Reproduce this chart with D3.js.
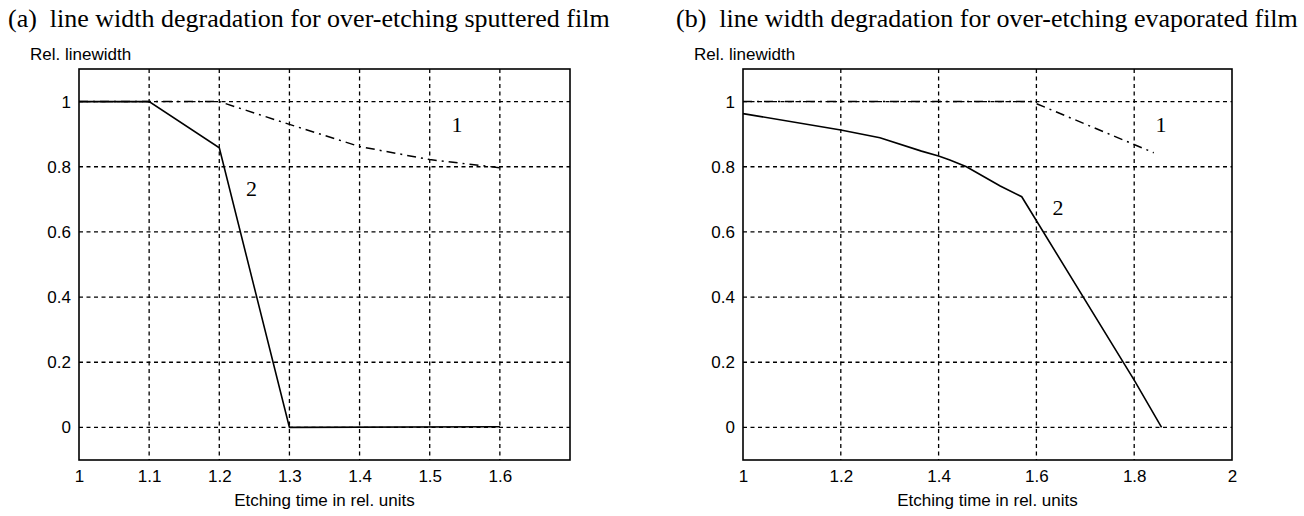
<!DOCTYPE html>
<html><head><meta charset="utf-8">
<script src="https://cdn.jsdelivr.net/npm/d3@7"></script>
<style>body{margin:0;background:#fff}</style>
</head><body>
<svg id="chart" width="1304" height="516"></svg>
<script>
// ---- data ----
const titleA = "(a)\u00a0\u00a0line width degradation for over-etching sputtered film";
const titleB = "(b)\u00a0\u00a0line width degradation for over-etching evaporated film";
const yLabel = "Rel. linewidth";
const xLabel = "Etching time in rel. units";
const xTicksA = [1, 1.1, 1.2, 1.3, 1.4, 1.5, 1.6];
const xGridA = [1.1, 1.2, 1.3, 1.4, 1.5, 1.6];
const xTicksB = [1, 1.2, 1.4, 1.6, 1.8, 2];
const xGridB = [1.2, 1.4, 1.6, 1.8];
const yTicks = [0, 0.2, 0.4, 0.6, 0.8, 1];
// panel (a) curve 1 (dash-dot) and curve 2 (solid)
const xA1 = [1, 1.1, 1.2, 1.3, 1.4, 1.5, 1.6];
const yA1 = [1, 1, 1, 0.93, 0.862, 0.822, 0.797];
const xA2 = [1, 1.1, 1.2, 1.3, 1.6];
const yA2 = [1, 1, 0.858, 0, 0.002];
// panel (b)
const xB1 = [1, 1.59, 1.84];
const yB1 = [1, 1, 0.843];
const xB2 = [1, 1.2, 1.28, 1.365, 1.4, 1.423, 1.457, 1.526, 1.57, 1.8, 1.856];
const yB2 = [0.963, 0.913, 0.889, 0.848, 0.833, 0.821, 0.80, 0.741, 0.708, 0.145, 0];
// curve labels
const curveLabels = ["1", "2"];
const labelPosA = [[1.539, 0.906], [1.246, 0.711]];
const labelPosB = [[1.855, 0.906], [1.644, 0.651]];

const svg = d3.select("#chart");

function panel(cfg) {
  const x = d3.scaleLinear().domain(cfg.xDomain).range([cfg.left, cfg.right]);
  const y = d3.scaleLinear().domain([-0.1, 1.1]).range([460, 69]);
  const g = svg.append("g");
  const gridStyle = sel => sel.attr("stroke", "#000").attr("stroke-width", 1.3).attr("stroke-dasharray", "4,3.5");
  // horizontal grid
  g.selectAll(".hg").data(yTicks).join("line")
    .attr("x1", cfg.left).attr("x2", cfg.right)
    .attr("y1", d => y(d)).attr("y2", d => y(d)).call(gridStyle);
  // vertical grid
  g.selectAll(".vg").data(cfg.xGrid).join("line")
    .attr("x1", d => x(d)).attr("x2", d => x(d))
    .attr("y1", 69).attr("y2", 460).call(gridStyle);
  // axes labels
  const xa = g.append("g").attr("transform", "translate(0,460)")
    .call(d3.axisBottom(x).tickValues(cfg.xTicks).tickSize(0).tickPadding(10).tickFormat(d => String(+d.toFixed(1))));
  xa.select(".domain").remove();
  xa.selectAll("text").attr("font-family", "Liberation Sans, Arial, sans-serif").attr("font-size", 17).attr("fill", "#000");
  const ya = g.append("g").attr("transform", `translate(${cfg.left},0)`)
    .call(d3.axisLeft(y).tickValues(yTicks).tickSize(0).tickPadding(8).tickFormat(d => String(+d.toFixed(1))));
  ya.select(".domain").remove();
  ya.selectAll("text").attr("font-family", "Liberation Sans, Arial, sans-serif").attr("font-size", 17).attr("fill", "#000");
  // frame
  g.append("rect").attr("x", cfg.left).attr("y", 69).attr("width", cfg.right - cfg.left).attr("height", 391)
    .attr("fill", "none").attr("stroke", "#000").attr("stroke-width", 1.6);
  // curves
  const line = d3.line().x(d => x(d[0])).y(d => y(d[1]));
  g.append("path").datum(d3.zip(cfg.x1, cfg.y1)).attr("d", line)
    .attr("fill", "none").attr("stroke", "#000").attr("stroke-width", 1.5).attr("stroke-dasharray", "9,5,2,5");
  g.append("path").datum(d3.zip(cfg.x2, cfg.y2)).attr("d", line)
    .attr("fill", "none").attr("stroke", "#000").attr("stroke-width", 1.6);
  // curve labels
  g.selectAll(".cl").data(cfg.labelPos).join("text")
    .attr("x", d => x(d[0])).attr("y", d => y(d[1]))
    .attr("text-anchor", "middle").attr("font-family", "Liberation Serif, Times New Roman, serif")
    .attr("font-size", 22).text((d, i) => curveLabels[i]);
  // titles
  g.append("text").attr("x", cfg.titleX).attr("y", 27).attr("font-family", "Liberation Serif, Times New Roman, serif")
    .attr("font-size", 26).text(cfg.title);
  g.append("text").attr("x", cfg.left - 49).attr("y", 60).attr("font-family", "Liberation Sans, Arial, sans-serif")
    .attr("font-size", 17).text(yLabel);
  g.append("text").attr("x", (cfg.left + cfg.right) / 2).attr("y", 506).attr("text-anchor", "middle")
    .attr("font-family", "Liberation Sans, Arial, sans-serif").attr("font-size", 17).text(xLabel);
}

panel({left: 79, right: 570, xDomain: [1, 1.7], xTicks: xTicksA, xGrid: xGridA,
  x1: xA1, y1: yA1, x2: xA2, y2: yA2, labelPos: labelPosA, title: titleA, titleX: 8});
panel({left: 743, right: 1232, xDomain: [1, 2], xTicks: xTicksB, xGrid: xGridB,
  x1: xB1, y1: yB1, x2: xB2, y2: yB2, labelPos: labelPosB, title: titleB, titleX: 676});
</script>
</body></html>
